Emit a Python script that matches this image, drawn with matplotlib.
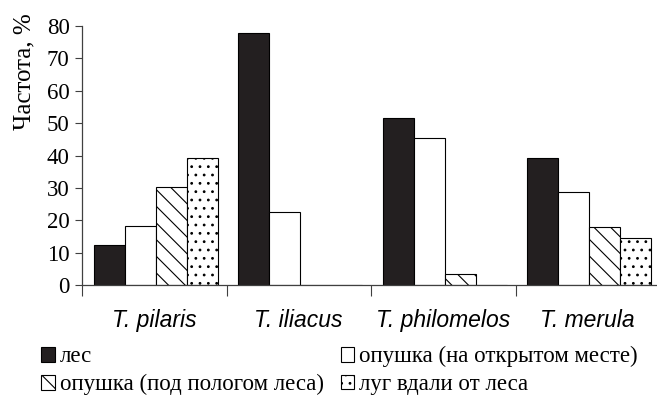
import numpy as np
import matplotlib.pyplot as plt
from matplotlib.patches import Patch

plt.rcParams['hatch.linewidth'] = 0.8

# Thrush species and share of nests by habitat, %
species = ['T. pilaris', 'T. iliacus', 'T. philomelos', 'T. merula']
habitats = ['лес', 'опушка (на открытом месте)',
            'опушка (под пологом леса)', 'луг вдали от леса']
forest = [12.3, 77.9, 51.5, 39.3]
edge_open = [18.2, 22.4, 45.3, 28.6]
edge_canopy = [30.2, 0, 3.3, 17.8]
meadow = [39.3, 0, 0, 14.4]

series = [forest, edge_open, edge_canopy, meadow]
fills = ['#231f20', 'white', 'white', 'white']
hatches = [None, None, '\\\\', '..']

serif = 'Liberation Serif'

fig = plt.figure(figsize=(6.57, 4.04), dpi=100)
ax = fig.add_axes([82 / 657, 1 - 285 / 404, 578 / 657, 259 / 404])

x = np.arange(len(species))
w = 0.2145
start = x - 0.5 + 0.083
for i, vals in enumerate(series):
    ax.bar(start + i * w, vals, width=w, align='edge', color=fills[i],
           edgecolor='black', linewidth=0.8, hatch=hatches[i])

ax.set_xlim(-0.5, 3.5)
ax.set_ylim(0, 80)
ax.set_yticks(range(0, 81, 10))
for lab in ax.get_yticklabels():
    lab.set_fontfamily(serif)
    lab.set_fontsize(16.5)
ax.tick_params(axis='y', length=5, width=0.8, pad=4, color='#404040')

ax.set_xticks(x)
ax.set_xticklabels(species, fontfamily='Liberation Sans', style='italic', fontsize=16.5)
ax.set_xticks(np.arange(-0.5, 3.6, 1), minor=True)
ax.tick_params(axis='x', which='major', length=0, pad=17)
ax.tick_params(axis='x', which='minor', length=8, width=0.8, color='#404040')

for s in ['top', 'right']:
    ax.spines[s].set_visible(False)
for s in ['left', 'bottom']:
    ax.spines[s].set_color('#404040')
    ax.spines[s].set_linewidth(0.9)

fig.text(24 / 657, 1 - 72 / 404, 'Частота, %', rotation=90, ha='center',
         va='center', fontfamily=serif, fontsize=18)

handles = [Patch(facecolor=fills[i], edgecolor='black', linewidth=0.8,
                 hatch=hatches[i], label=habitats[i]) for i in range(4)]
order = [0, 2, 1, 3]
fig.legend([handles[i] for i in order], [habitats[i] for i in order],
           ncol=2, loc='upper left', bbox_to_anchor=(32 / 657, 1 - 337 / 404),
           frameon=False, prop={'family': serif, 'size': 16.5},
           handlelength=0.6, handleheight=0.6, handletextpad=0.2,
           columnspacing=0.75, labelspacing=0.3, borderaxespad=0)

fig.savefig('out.png', dpi=100)
